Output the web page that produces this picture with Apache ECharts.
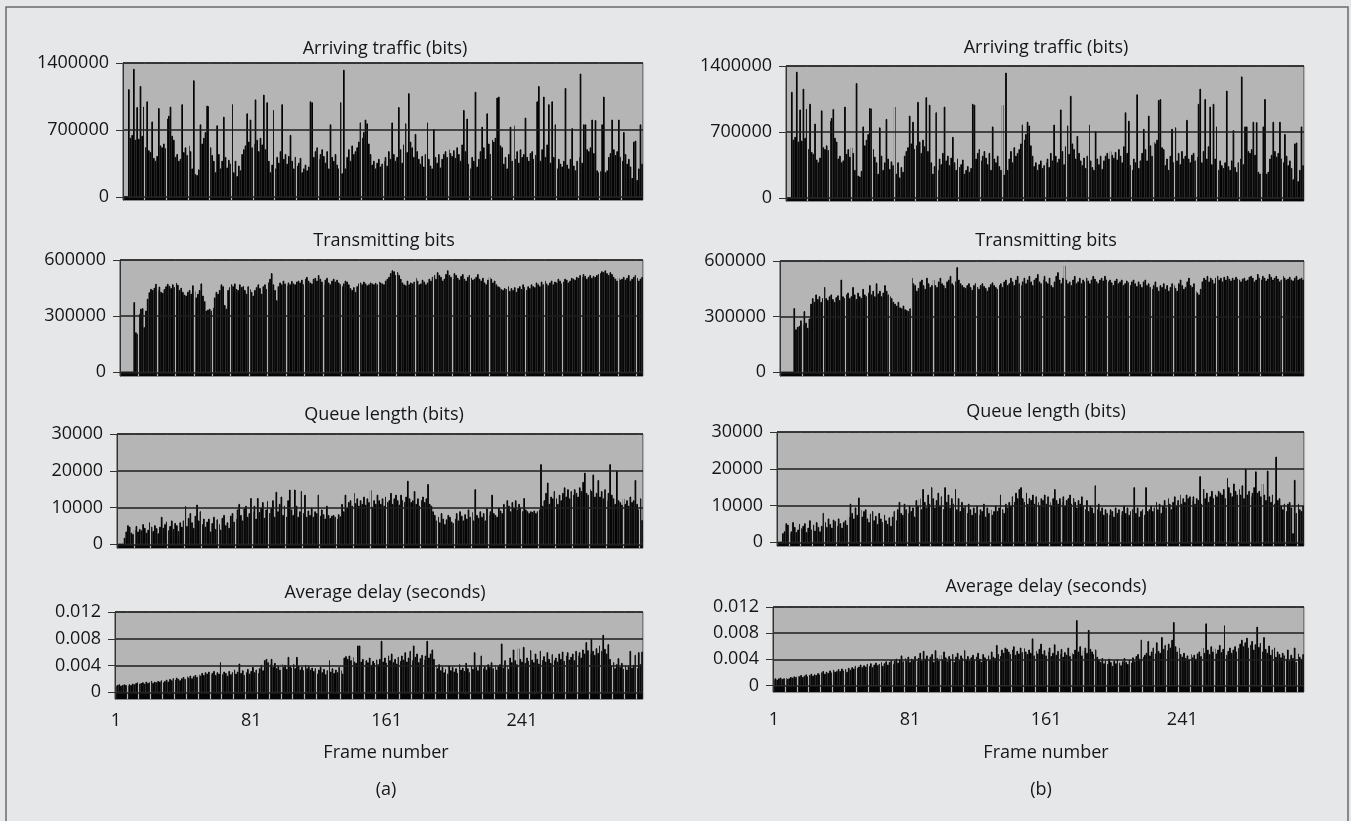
<!DOCTYPE html>
<html><head><meta charset="utf-8">
<script src="https://cdn.jsdelivr.net/npm/echarts@6/dist/echarts.min.js"></script>
<style>html,body{margin:0;padding:0;background:#e6e7e8;}#c{width:1351px;height:821px;}</style>
</head><body><div id="c"></div><script>
// Arriving traffic (bits) – same input trace for (a) and (b)
const arrivingBits = [
0,0,0,1127000,620000,650000,1340000,600000,940000,610000,1160000,640000,945000,
520000,1000000,490000,470000,790000,410000,380000,430000,930000,540000,520000,560000,510000,
820000,850000,945000,640000,600000,420000,450000,380000,400000,970000,470000,520000,440000,
540000,480000,300000,1220000,240000,230000,290000,760000,560000,620000,680000,955000,950000,
520000,440000,380000,260000,750000,450000,300000,380000,840000,420000,310000,390000,350000,
970000,260000,380000,220000,330000,280000,450000,500000,540000,875000,580000,810000,520000,
560000,1020000,600000,480000,620000,550000,1070000,500000,990000,380000,260000,340000,910000,
300000,420000,360000,480000,970000,400000,450000,350000,430000,650000,380000,300000,420000,
330000,360000,410000,260000,300000,340000,280000,320000,1000000,990000,420000,480000,520000,
400000,450000,500000,430000,360000,480000,300000,760000,420000,380000,450000,340000,300000,
990000,250000,1330000,300000,420000,500000,380000,540000,450000,480000,520000,580000,780000,
620000,680000,810000,770000,560000,450000,340000,380000,300000,360000,400000,320000,350000,
380000,420000,330000,480000,400000,780000,450000,380000,420000,940000,500000,360000,550000,
770000,470000,1085000,580000,520000,420000,660000,480000,400000,350000,430000,320000,450000,
780000,400000,330000,300000,710000,420000,360000,450000,310000,400000,450000,480000,420000,
500000,460000,430000,490000,410000,520000,450000,380000,550000,910000,480000,820000,350000,
300000,420000,380000,1100000,320000,400000,480000,735000,520000,400000,875000,560000,450000,
600000,580000,620000,1040000,1050000,540000,520000,350000,420000,300000,450000,735000,380000,
750000,400000,480000,360000,500000,420000,450000,830000,420000,380000,460000,480000,400000,
440000,1000000,1160000,380000,500000,1050000,420000,550000,970000,360000,1000000,420000,760000,
300000,400000,350000,320000,380000,1140000,340000,300000,400000,720000,330000,280000,380000,
420000,1290000,360000,760000,760000,500000,480000,520000,810000,460000,805000,280000,260000,
270000,760000,1050000,260000,280000,420000,460000,810000,500000,440000,480000,810000,420000,
380000,680000,450000,350000,400000,320000,200000,580000,590000,180000,300000,760000,350000
];
// Transmitting bits (a)
const transmitA = [
0,0,0,0,0,0,0,0,375000,214000,205000,312000,340000,
343000,241000,330000,393000,428000,446000,440000,452000,473000,440000,458000,430000,425000,
445000,460000,473000,462000,450000,470000,455000,478000,468000,440000,452000,430000,415000,
410000,430000,440000,420000,465000,435000,400000,420000,440000,475000,410000,380000,330000,
335000,340000,330000,345000,400000,430000,420000,440000,470000,460000,360000,340000,440000,
455000,470000,460000,475000,445000,440000,470000,455000,460000,440000,420000,460000,445000,
430000,410000,440000,455000,470000,450000,420000,460000,470000,445000,480000,500000,530000,
470000,440000,385000,460000,480000,470000,490000,475000,465000,480000,470000,488000,475000,
470000,485000,490000,480000,495000,470000,500000,510000,490000,480000,475000,500000,505000,
490000,520000,500000,485000,470000,495000,505000,480000,470000,490000,500000,485000,495000,
480000,470000,460000,475000,490000,485000,470000,450000,440000,455000,430000,460000,475000,
480000,470000,485000,475000,465000,470000,480000,475000,470000,478000,470000,485000,480000,
475000,470000,490000,500000,510000,530000,545000,540000,520000,535000,520000,500000,480000,
470000,465000,490000,470000,480000,475000,485000,505000,490000,470000,475000,495000,485000,
470000,480000,500000,490000,510000,520000,500000,535000,520000,510000,490000,500000,525000,
545000,520000,510000,500000,530000,520000,505000,495000,515000,525000,500000,490000,510000,
520000,505000,495000,500000,510000,525000,500000,490000,505000,480000,470000,495000,510000,
500000,480000,490000,470000,460000,455000,445000,440000,450000,445000,460000,435000,450000,
440000,455000,430000,450000,460000,445000,470000,455000,440000,460000,450000,470000,460000,
455000,480000,470000,460000,485000,470000,490000,475000,465000,480000,490000,470000,485000,
480000,500000,490000,475000,485000,500000,495000,480000,490000,505000,500000,495000,510000,
505000,520000,510000,525000,515000,500000,510000,520000,505000,515000,510000,520000,525000,
530000,540000,535000,545000,530000,520000,535000,525000,510000,500000,490000,505000,495000,
500000,510000,495000,505000,520000,490000,500000,510000,520000,505000,490000,500000,510000
];
// Transmitting bits (b)
const transmitB = [
0,0,0,0,0,0,0,0,346000,232000,245000,250000,280000,
260000,330000,268000,240000,290000,370000,400000,380000,420000,395000,410000,380000,400000,
460000,400000,390000,410000,420000,395000,380000,405000,415000,390000,500000,410000,400000,
420000,430000,400000,410000,460000,420000,395000,430000,410000,400000,450000,420000,410000,
430000,470000,420000,440000,410000,480000,425000,440000,410000,430000,470000,440000,420000,
410000,400000,380000,370000,360000,380000,350000,345000,360000,340000,335000,330000,345000,
510000,480000,470000,440000,455000,490000,500000,470000,450000,510000,480000,460000,470000,
500000,470000,460000,490000,510000,480000,470000,455000,490000,500000,520000,480000,470000,
490000,567000,500000,480000,470000,460000,455000,470000,480000,460000,445000,470000,480000,
460000,450000,470000,480000,465000,455000,440000,460000,475000,485000,470000,460000,450000,
470000,480000,460000,490000,500000,470000,480000,510000,490000,470000,500000,520000,480000,
470000,490000,510000,480000,500000,520000,490000,470000,500000,510000,530000,490000,480000,
500000,520000,490000,480000,510000,470000,460000,490000,520000,540000,500000,480000,510000,
576000,500000,480000,490000,470000,500000,520000,480000,490000,510000,480000,500000,490000,
510000,495000,480000,500000,520000,505000,490000,480000,500000,510000,495000,520000,500000,
490000,500000,485000,470000,495000,505000,480000,490000,500000,470000,480000,495000,485000,
470000,490000,500000,480000,465000,490000,475000,460000,490000,500000,470000,480000,460000,
450000,470000,490000,460000,440000,470000,460000,480000,450000,470000,440000,460000,480000,
470000,455000,440000,480000,500000,470000,450000,460000,490000,510000,470000,460000,480000,
440000,430000,420000,450000,490000,510000,500000,520000,490000,510000,500000,480000,510000,
520000,500000,510000,490000,515000,500000,520000,505000,495000,510000,500000,515000,505000,
500000,490000,505000,510000,495000,500000,515000,520000,510000,490000,500000,530000,510000,
500000,520000,510000,495000,505000,530000,515000,500000,510000,520000,505000,490000,500000,
520000,510000,500000,505000,515000,500000,495000,510000,520000,500000,505000,510000,500000
];
// Queue length (bits) (a)
const queueA = [
0,0,0,0,1800,3500,5200,4800,3200,2800,4000,5000,3500,
4200,3800,5500,4500,3200,4000,6000,4800,3600,5200,4400,3000,4800,
7500,4500,5500,6200,3800,5000,6500,4200,5800,5200,3600,6000,4800,
6500,10400,5000,7200,8500,6000,4500,7800,10800,6500,9000,5500,7000,
4800,6200,7000,3500,5800,7500,4200,6800,5500,4000,7200,8000,5200,
6000,4500,7800,8500,6200,7000,9500,11000,8000,6500,9800,10500,7500,
8500,12600,9000,10500,7000,12600,8800,10000,11500,7200,9500,11800,8500,
10000,12000,7500,14300,9000,11000,13000,8000,10500,7500,12000,14900,9500,
8000,14900,10500,7500,9000,14500,8500,13500,7500,9200,8000,10000,7500,
9000,8500,13500,7800,9500,8200,7000,10500,8000,7200,7800,8000,7500,
7000,8200,7600,11000,9000,13500,10000,11500,12000,10500,14000,11200,12500,
10500,12000,11000,13000,10800,12500,11500,14800,10200,12000,11000,13500,12000,
11000,12500,10500,13000,11500,12000,14000,11000,12500,13500,12000,10800,13500,
12000,11500,13000,17300,12500,11500,12000,14500,11000,12500,10500,12000,13000,
11500,12500,16400,11000,10500,9000,8000,6500,7500,6000,8500,7000,5500,
6800,8000,7500,6200,5800,7000,8500,6500,9000,7800,6500,8200,7000,
9500,7500,8800,6500,15000,8000,7200,9000,7500,8500,6500,9800,8000,
9000,13500,8500,8000,7500,10000,9200,8500,11000,9500,12000,10500,9000,
11500,10000,12000,9500,11000,10000,9000,12600,9500,9000,8500,9000,8800,
9200,8500,9000,9500,21800,10500,12000,14000,16800,11000,13000,12500,14500,
12500,11000,13500,12000,14000,15500,13000,15000,12500,14500,13500,15000,14000,
13000,15500,14500,17000,19500,14000,13500,15000,14500,19000,13000,14000,17500,
13000,14500,12500,15000,12000,14000,21800,13500,12500,11000,20000,12000,11500,
10800,12500,11000,12000,10500,13000,11500,12000,17500,11000,9500,12500,6600
];
// Queue length (bits) (b)
const queueB = [
0,0,0,2500,3000,5200,4800,2500,3000,5500,4200,2800,3500,
5000,3800,4500,5200,2800,4000,6000,3500,4800,3200,5500,4200,3000,
4500,8000,5500,4200,6500,5000,4000,6200,5800,4500,6500,5200,4000,
5500,6000,4800,7000,10500,8000,6500,9500,7500,12200,9000,7000,8500,
9000,6500,5500,7800,8500,6000,7200,5000,8000,6500,5500,7500,6000,
5000,6800,4500,7000,8500,6000,9000,11000,8000,7500,10500,9000,8000,
10000,8500,9500,7000,11500,10000,12000,9000,14500,11000,9500,13000,10500,
15000,12000,9500,11500,13500,10000,12500,9000,15000,11000,13000,9500,12000,
10500,14500,9000,12000,8500,11000,9500,10000,8000,10500,9000,7500,9500,
8000,10000,7500,9000,8500,10500,7000,9500,8000,9000,7500,8500,10000,
8500,9500,13000,9000,8000,10500,9500,11000,10000,12500,11000,13500,12000,
14500,15000,12000,11000,13500,10500,12000,11500,13000,10500,12500,11000,10000,
12000,11500,13000,10500,12500,11000,10000,12000,14500,11500,10500,12000,11000,
12500,10000,11500,12000,13000,10500,12000,11000,9500,11500,10500,12500,10000,
9000,11500,8500,10000,9500,8000,15500,9000,10500,8500,9500,7500,9000,
8000,7500,9000,8500,7000,9500,8000,9000,7500,8500,10000,8000,9500,
7500,8500,9000,15000,8000,9500,7000,8500,9000,7500,15000,8500,9000,
10000,8500,9500,11000,9000,10500,8000,10000,11500,9500,12000,10500,9000,
11000,12500,10000,11500,13000,10500,12000,11000,13000,12000,12500,11500,12500,
10500,12000,11500,18000,10500,14500,12000,13500,11000,12500,14000,12000,13000,
12500,14000,13500,13000,14500,12000,17500,15000,13500,12500,16000,14000,13000,
14500,13000,15500,12000,20000,13000,14000,12500,13500,15000,19300,13500,14000,
12500,16000,13000,11500,19500,12500,11000,13000,10500,23300,11500,12000,10000,
9000,10500,8500,10500,11000,9500,2500,17000,8000,10500,9000,8500,10000
];
// Average delay (seconds) (a)
const delayA = [
0.0010,0.0011,0.0012,0.0010,0.0011,0.0012,0.0011,0.0010,0.0012,0.0011,0.0013,0.0012,0.0014,
0.0015,0.0013,0.0014,0.0015,0.0013,0.0016,0.0014,0.0015,0.0017,0.0014,0.0016,0.0015,0.0017,
0.0016,0.0018,0.0015,0.0017,0.0019,0.0016,0.0020,0.0018,0.0021,0.0019,0.0022,0.0020,0.0018,
0.0021,0.0023,0.0020,0.0024,0.0022,0.0025,0.0021,0.0024,0.0026,0.0023,0.0027,0.0025,0.0029,
0.0026,0.0030,0.0028,0.0031,0.0027,0.0029,0.0032,0.0026,0.0030,0.0028,0.0045,0.0027,0.0031,
0.0029,0.0025,0.0032,0.0027,0.0030,0.0034,0.0028,0.0031,0.0043,0.0029,0.0033,0.0026,0.0030,
0.0035,0.0028,0.0032,0.0038,0.0030,0.0034,0.0029,0.0036,0.0041,0.0033,0.0048,0.0050,0.0045,
0.0042,0.0050,0.0038,0.0044,0.0036,0.0040,0.0034,0.0043,0.0038,0.0041,0.0035,0.0053,0.0039,
0.0037,0.0042,0.0036,0.0053,0.0040,0.0034,0.0038,0.0033,0.0041,0.0036,0.0039,0.0034,0.0037,
0.0032,0.0036,0.0028,0.0034,0.0038,0.0030,0.0035,0.0027,0.0033,0.0048,0.0031,0.0036,0.0029,
0.0034,0.0030,0.0038,0.0033,0.0028,0.0052,0.0054,0.0050,0.0055,0.0048,0.0053,0.0046,0.0044,
0.0070,0.0070,0.0046,0.0050,0.0043,0.0048,0.0045,0.0052,0.0041,0.0047,0.0044,0.0049,0.0042,
0.0050,0.0077,0.0046,0.0052,0.0044,0.0055,0.0048,0.0058,0.0045,0.0050,0.0043,0.0053,0.0047,
0.0055,0.0049,0.0060,0.0046,0.0052,0.0062,0.0048,0.0070,0.0053,0.0058,0.0045,0.0051,0.0056,
0.0049,0.0055,0.0077,0.0052,0.0058,0.0064,0.0050,0.0040,0.0036,0.0042,0.0033,0.0038,0.0030,
0.0035,0.0028,0.0040,0.0033,0.0038,0.0031,0.0036,0.0029,0.0042,0.0034,0.0037,0.0032,0.0044,
0.0036,0.0030,0.0040,0.0035,0.0060,0.0038,0.0033,0.0041,0.0055,0.0036,0.0039,0.0034,0.0042,
0.0038,0.0045,0.0036,0.0041,0.0034,0.0039,0.0042,0.0073,0.0037,0.0048,0.0040,0.0035,0.0052,
0.0045,0.0064,0.0048,0.0042,0.0066,0.0050,0.0046,0.0068,0.0044,0.0052,0.0047,0.0063,0.0049,
0.0045,0.0058,0.0050,0.0043,0.0062,0.0048,0.0054,0.0046,0.0060,0.0050,0.0044,0.0057,0.0048,
0.0052,0.0046,0.0058,0.0050,0.0061,0.0047,0.0055,0.0060,0.0049,0.0053,0.0058,0.0048,0.0062,
0.0055,0.0060,0.0052,0.0064,0.0058,0.0075,0.0063,0.0058,0.0080,0.0062,0.0056,0.0066,0.0059,
0.0070,0.0062,0.0086,0.0065,0.0058,0.0072,0.0050,0.0040,0.0045,0.0036,0.0042,0.0051,0.0038,
0.0044,0.0035,0.0040,0.0034,0.0039,0.0062,0.0037,0.0041,0.0056,0.0036,0.0060,0.0042,0.0061
];
// Average delay (seconds) (b)
const delayB = [
0.0010,0.0011,0.0009,0.0011,0.0012,0.0010,0.0011,0.0012,0.0010,0.0011,0.0013,0.0012,0.0014,
0.0013,0.0015,0.0014,0.0016,0.0013,0.0015,0.0017,0.0014,0.0016,0.0018,0.0015,0.0017,0.0016,
0.0019,0.0017,0.0020,0.0022,0.0018,0.0021,0.0019,0.0023,0.0020,0.0024,0.0021,0.0022,0.0025,
0.0022,0.0026,0.0023,0.0025,0.0021,0.0027,0.0024,0.0028,0.0026,0.0030,0.0027,0.0029,0.0032,
0.0028,0.0031,0.0029,0.0033,0.0030,0.0034,0.0028,0.0032,0.0035,0.0031,0.0033,0.0036,0.0030,
0.0034,0.0037,0.0032,0.0036,0.0039,0.0033,0.0038,0.0041,0.0035,0.0040,0.0046,0.0037,0.0042,
0.0038,0.0044,0.0036,0.0041,0.0039,0.0045,0.0037,0.0042,0.0050,0.0038,0.0053,0.0041,0.0046,
0.0039,0.0044,0.0048,0.0036,0.0054,0.0042,0.0038,0.0047,0.0040,0.0052,0.0043,0.0037,0.0045,
0.0041,0.0048,0.0036,0.0044,0.0050,0.0039,0.0046,0.0042,0.0054,0.0040,0.0045,0.0038,0.0043,
0.0047,0.0039,0.0044,0.0050,0.0041,0.0036,0.0048,0.0043,0.0040,0.0046,0.0039,0.0052,0.0044,
0.0042,0.0062,0.0048,0.0045,0.0055,0.0050,0.0058,0.0056,0.0052,0.0048,0.0055,0.0060,0.0047,
0.0053,0.0049,0.0058,0.0051,0.0057,0.0052,0.0048,0.0055,0.0050,0.0072,0.0046,0.0053,0.0049,
0.0056,0.0064,0.0048,0.0054,0.0046,0.0052,0.0058,0.0045,0.0050,0.0063,0.0047,0.0053,0.0049,
0.0056,0.0044,0.0051,0.0047,0.0058,0.0045,0.0050,0.0048,0.0055,0.0100,0.0052,0.0060,0.0046,
0.0054,0.0058,0.0050,0.0085,0.0056,0.0052,0.0048,0.0055,0.0044,0.0040,0.0036,0.0042,0.0034,
0.0039,0.0033,0.0041,0.0036,0.0030,0.0038,0.0034,0.0040,0.0035,0.0031,0.0037,0.0042,0.0036,
0.0033,0.0039,0.0035,0.0043,0.0037,0.0045,0.0048,0.0041,0.0070,0.0044,0.0047,0.0050,0.0068,
0.0046,0.0052,0.0058,0.0049,0.0066,0.0053,0.0050,0.0074,0.0056,0.0062,0.0054,0.0064,0.0058,
0.0070,0.0097,0.0060,0.0052,0.0058,0.0048,0.0044,0.0050,0.0042,0.0046,0.0040,0.0048,0.0043,
0.0047,0.0041,0.0049,0.0052,0.0045,0.0058,0.0050,0.0095,0.0055,0.0048,0.0060,0.0052,0.0057,
0.0049,0.0055,0.0062,0.0051,0.0056,0.0092,0.0047,0.0053,0.0058,0.0050,0.0055,0.0060,0.0052,
0.0057,0.0064,0.0070,0.0060,0.0066,0.0073,0.0058,0.0062,0.0068,0.0055,0.0063,0.0090,0.0059,
0.0065,0.0052,0.0074,0.0056,0.0050,0.0061,0.0047,0.0055,0.0058,0.0044,0.0052,0.0048,0.0043,
0.0050,0.0046,0.0041,0.0055,0.0038,0.0047,0.0042,0.0058,0.0036,0.0049,0.0044,0.0040,0.0048
];
// Axis tick labels
const arrivingTicks = [0, 700000, 1400000];
const transmitTicks = [0, 300000, 600000];
const queueTicks = [0, 10000, 20000, 30000];
const delayTicks = [0, 0.004, 0.008, 0.012];
const panelTitles = ['Arriving traffic (bits)', 'Transmitting bits', 'Queue length (bits)', 'Average delay (seconds)'];
const xAxisTitle = 'Frame number';
const columnLabels = ['(a)', '(b)'];

const frames = arrivingBits.map((_, i) => String(i + 1));
const FONT = '"Open Sans", "Noto Sans", sans-serif';
const FS = 18;
const TXT = '#161616';
const PLOT_BG = '#b5b5b5';

// layout / style per panel
const panels = [
  {t:0, data:arrivingBits, ticks:arrivingTicks, min:-30000, max:1400000, left:123, top:63, width:520, height:137, gap:13, tx:385, ty:49},
  {t:1, data:transmitA, ticks:transmitTicks, min:-20000, max:600000, left:120, top:260, width:523, height:116, gap:11, tx:384, ty:241},
  {t:2, data:queueA, ticks:queueTicks, min:-1000, max:30000, left:117, top:434, width:526, height:114, gap:10, tx:384, ty:415},
  {t:3, data:delayA, ticks:delayTicks, min:-0.001, max:0.012, left:115, top:612, width:528, height:87, gap:7, tx:385, ty:593, bottom:true, lm:13},
  {t:0, data:arrivingBits, ticks:arrivingTicks, min:-30000, max:1400000, left:786, top:66, width:518, height:135, gap:13, tx:1046, ty:48},
  {t:1, data:transmitB, ticks:transmitTicks, min:-20000, max:600000, left:780, top:261, width:524, height:115, gap:13, tx:1046, ty:241},
  {t:2, data:queueB, ticks:queueTicks, min:-1000, max:30000, left:777, top:432, width:527, height:114, gap:7, tx:1046, ty:412},
  {t:3, data:delayB, ticks:delayTicks, min:-0.001, max:0.012, left:773, top:607, width:531, height:85, gap:7, tx:1046, ty:587, bottom:true, lm:19}
];

const grids = [], xAxes = [], yAxes = [], series = [], graphics = [];
panels.forEach((p, i) => {
  grids.push({left:p.left, top:p.top, width:p.width, height:p.height, show:true,
    backgroundColor:PLOT_BG, borderColor:'#333', borderWidth:1});
  xAxes.push({type:'category', gridIndex:i, data:frames, z:5,
    axisLine:{show:false, onZero:false}, axisTick:{show:false},
    axisLabel:{show:!!p.bottom, interval:79, margin:p.lm || 14, fontSize:FS, color:TXT, fontFamily:FONT},
    splitLine:{show:true, interval:p.gap - 1, lineStyle:{color:PLOT_BG, width:1.2}}});
  yAxes.push({type:'value', gridIndex:i, min:p.min, max:p.max, z:6,
    axisLine:{show:true, lineStyle:{color:'#333', width:1}},
    axisTick:{show:true, length:7, customValues:p.ticks, lineStyle:{color:'#333'}},
    axisLabel:{customValues:p.ticks, margin:14, fontSize:FS, color:TXT, fontFamily:FONT,
      formatter:v => String(v)},
    splitLine:{show:true, lineStyle:{color:'#1e1e1e', width:1.5}}});
  series.push({type:'bar', xAxisIndex:i, yAxisIndex:i, data:p.data,
    barCategoryGap:'0%', barGap:'0%', silent:true,
    itemStyle:{color:'#050505', borderColor:'#050505', borderWidth:1},
    markArea:{silent:true, itemStyle:{color:'#050505'}, data:[[{yAxis:p.min},{yAxis:0}]]}});
  graphics.push({type:'text', x:p.tx, y:p.ty, style:{text:panelTitles[p.t], font:FS + 'px ' + FONT,
    fill:TXT, align:'center', verticalAlign:'middle'}});
});
graphics.push({type:'text', x:386, y:753, style:{text:xAxisTitle, font:FS + 'px ' + FONT, fill:TXT, align:'center', verticalAlign:'middle'}});
graphics.push({type:'text', x:1046, y:753, style:{text:xAxisTitle, font:FS + 'px ' + FONT, fill:TXT, align:'center', verticalAlign:'middle'}});
graphics.push({type:'text', x:386, y:790, style:{text:columnLabels[0], font:FS + 'px ' + FONT, fill:TXT, align:'center', verticalAlign:'middle'}});
graphics.push({type:'text', x:1041, y:790, style:{text:columnLabels[1], font:FS + 'px ' + FONT, fill:TXT, align:'center', verticalAlign:'middle'}});
graphics.push({type:'rect', shape:{x:6, y:7, width:1342, height:840}, style:{fill:null, stroke:'#6b6b6b', lineWidth:1.5}});

const chart = echarts.init(document.getElementById('c'), null, {renderer:'canvas'});
chart.setOption({
  backgroundColor:'#e6e7e8', animation:false,
  grid:grids, xAxis:xAxes, yAxis:yAxes, series:series, graphic:graphics
});
</script></body></html>
